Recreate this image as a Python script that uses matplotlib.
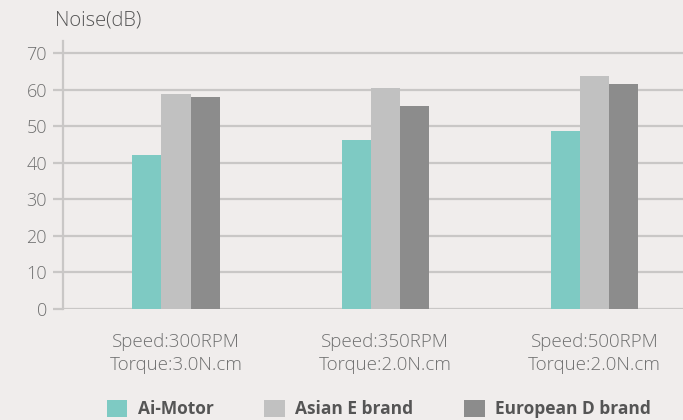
import matplotlib
matplotlib.use("Agg")
import numpy as np
import matplotlib.pyplot as plt
from matplotlib.patches import Patch

categories = ["Speed:300RPM\nTorque:3.0N.cm",
              "Speed:350RPM\nTorque:2.0N.cm",
              "Speed:500RPM\nTorque:2.0N.cm"]
brands = ["Ai-Motor", "Asian E brand", "European D brand"]
ai_motor = [42.2, 46.3, 48.8]
asian_e = [58.9, 60.5, 63.8]
european_d = [58.1, 55.6, 61.6]
yticks = [0, 10, 20, 30, 40, 50, 60, 70]

colors = ["#7ecac3", "#c1c1c1", "#8c8c8c"]
bg = "#f0edec"
grid_c = "#c9c7c6"
text_c = "#707070"

plt.rcParams["font.family"] = ["Open Sans", "DejaVu Sans"]

W, H = 683, 420
fig = plt.figure(figsize=(W / 100, H / 100), dpi=100, facecolor=bg)
ax = fig.add_axes([63 / W, (H - 309) / H, (W - 63) / W, (309 - 41) / H])
ax.set_facecolor(bg)

x = np.arange(len(categories))
w = 0.139
for i, (vals, c) in enumerate(zip([ai_motor, asian_e, european_d], colors)):
    ax.bar(x + (i - 1) * w, vals, width=w, color=c, zorder=3)

ax.set_xlim(-0.54, 2.423)
ax.set_ylim(0, 73.4)
ax.set_yticks(yticks)
ax.set_yticklabels([str(v) for v in yticks], fontsize=13, color=text_c,
                   fontweight="light")
ax.yaxis.grid(True, color=grid_c, linewidth=1.6, zorder=0)
ax.tick_params(axis="y", length=7.5, width=1.6, color=grid_c, pad=4)
ax.set_xticks(x)
ax.set_xticklabels(categories, fontsize=13.5, color=text_c, fontweight="light",
                   linespacing=1.35)
ax.tick_params(axis="x", length=0, pad=17)

for s in ["top", "right", "bottom"]:
    ax.spines[s].set_visible(False)
ax.spines["left"].set_color(grid_c)
ax.spines["left"].set_linewidth(1.6)

fig.text(55 / W, (H - 21) / H, "Noise(dB)", fontsize=14.5, color="#555555",
         fontweight="light", va="center", ha="left")

handles = [Patch(facecolor=c, edgecolor="none") for c in colors]
leg = fig.legend(handles, brands, ncol=3, loc="center left",
                 bbox_to_anchor=(91 / W, (H - 409) / H), frameon=False,
                 handlelength=1.2, handleheight=1.2, handletextpad=0.6,
                 columnspacing=2.9, prop={"weight": "bold", "size": 12.5})
for t in leg.get_texts():
    t.set_color("#555555")

fig.savefig("out.png", dpi=100, facecolor=bg)
